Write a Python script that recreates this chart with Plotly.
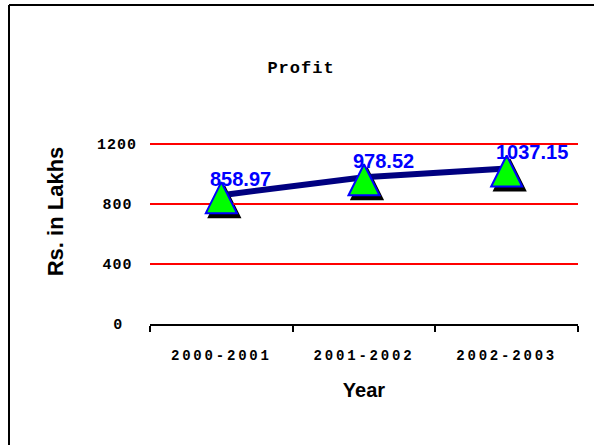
import plotly.graph_objects as go

# ---- data ----
years = ["2000-2001", "2001-2002", "2002-2003"]
profit = [858.97, 978.52, 1037.15]
y_tick_vals = [0, 400, 800, 1200]
y_tick_labels = ["0", "400", "800", "1200"]
y_range = [0, 1500]

# ---- geometry (pixels) ----
FW, FH = 594, 445
AX_L, AX_R, AX_T, AX_B = 150, 578, 99, 324   # visible plot box
MK_DY = -13                                  # marker layer lift (arrow apex above point)
SH_DX, SH_DY = 3, 4                          # shadow offset relative to markers

L = AX_L
R = FW - (AX_R + SH_DX)
T = AX_T + MK_DY
B = FH - AX_B
PW = FW - L - R
PH = FH - T - B


def dom_x(x0, x1):
    return [(x0 - L) / PW, (x1 - L) / PW]


def dom_y(ytop, ybot):
    return [(FH - B - ybot) / PH, (FH - B - ytop) / PH]


MONO = "Courier New, Liberation Mono, monospace"
SANS = "Arial, Liberation Sans, sans-serif"


def spaced(s, ls):
    return f'<span style="letter-spacing:{ls}px">{s}</span>'


maxlen = max(len(t) for t in y_tick_labels)


def ylab(s):
    pad = "".join('<span style="font-size:6px">\u00a0</span>' for _ in range(maxlen - len(s)))
    return spaced(s + pad, 1.0)


MSIZE = 31
fig = go.Figure()

# marker shadows (hidden axes, offset)
fig.add_trace(go.Scatter(
    x=years, y=profit, mode="markers", xaxis="x", yaxis="y",
    marker=dict(symbol="arrow-up", size=MSIZE, color="black",
                line=dict(color="black", width=2)),
    hoverinfo="skip", cliponaxis=False,
))

# the line (visible axes)
fig.add_trace(go.Scatter(
    x=years, y=profit, mode="lines", xaxis="x2", yaxis="y2",
    line=dict(color="#000080", width=6),
    cliponaxis=False, name="Profit",
))

# the markers (hidden axes, lifted so the triangle straddles the point)
fig.add_trace(go.Scatter(
    x=years, y=profit, mode="markers", xaxis="x3", yaxis="y3",
    marker=dict(symbol="arrow-up", size=MSIZE, color="#00FF00",
                line=dict(color="#0000FF", width=2)),
    cliponaxis=False, hoverinfo="skip",
))

for yr, v in zip(years, profit):
    fig.add_annotation(
        x=yr, y=v, xref="x2", yref="y2", text=f"{v:.2f}", showarrow=False,
        xanchor="left", yanchor="bottom", xshift=-13, yshift=3,
        font=dict(family=SANS, size=20, color="#0000FF", weight="bold"),
    )


def px_x(p):
    return (p - L) / PW


def px_y(p):
    return (FH - B - p) / PH


# frame (top and left edges)
fig.add_shape(type="line", xref="paper", yref="paper",
              x0=px_x(9), x1=px_x(FW + 10), y0=px_y(5), y1=px_y(5),
              line=dict(color="black", width=2))
fig.add_shape(type="line", xref="paper", yref="paper",
              x0=px_x(9), x1=px_x(9), y0=px_y(5), y1=px_y(FH + 10),
              line=dict(color="black", width=2))

cat_axis = dict(type="category", categoryorder="array", categoryarray=years,
                range=[-0.5, len(years) - 0.5])

fig.update_layout(
    width=FW, height=FH,
    margin=dict(l=L, r=R, t=T, b=B),
    paper_bgcolor="white", plot_bgcolor="rgba(0,0,0,0)",
    showlegend=False,
    title=dict(text=spaced("Profit", 1.0), x=301 / FW, y=1 - 67 / FH,
               xref="container", yref="container",
               xanchor="center", yanchor="middle",
               font=dict(family=MONO, size=17, color="black", weight="bold")),
    # shadow layer
    xaxis=dict(domain=dom_x(AX_L + SH_DX, AX_R + SH_DX), anchor="y", visible=False, **cat_axis),
    yaxis=dict(domain=dom_y(AX_T + MK_DY + SH_DY, AX_B + MK_DY + SH_DY), anchor="x",
               range=y_range, visible=False),
    # marker layer
    xaxis3=dict(domain=dom_x(AX_L, AX_R), anchor="y3", visible=False, **cat_axis),
    yaxis3=dict(domain=dom_y(AX_T + MK_DY, AX_B + MK_DY), anchor="x3",
                range=y_range, visible=False),
    # visible axes
    xaxis2=dict(domain=dom_x(AX_L, AX_R), anchor="y2", **cat_axis,
                showline=True, linecolor="black", linewidth=2,
                ticks="outside", tickson="boundaries", ticklen=6,
                tickwidth=2, tickcolor="black", showgrid=False,
                tickvals=years, ticktext=[spaced(y, 2.8) for y in years],
                ticklabelstandoff=17,
                tickfont=dict(family=MONO, size=14, color="black", weight="bold"),
                title=dict(text="Year", standoff=20,
                           font=dict(family=SANS, size=20, color="black", weight="bold"))),
    yaxis2=dict(domain=dom_y(AX_T, AX_B), anchor="x2", range=y_range,
                tickvals=y_tick_vals, ticktext=[ylab(t) for t in y_tick_labels],
                showgrid=True, gridcolor="#FF0000", gridwidth=1.5,
                zeroline=False, showline=False, ticks="",
                ticklabelstandoff=12,
                tickfont=dict(family=MONO, size=15, color="black", weight="bold"),
                title=dict(text="Rs. in Lakhs", standoff=27,
                           font=dict(family=SANS, size=22, color="black", weight="bold"))),
)

fig.write_html("out.html", config={"displayModeBar": False},
               post_script="document.body.style.margin='0';document.body.style.overflow='hidden';")
